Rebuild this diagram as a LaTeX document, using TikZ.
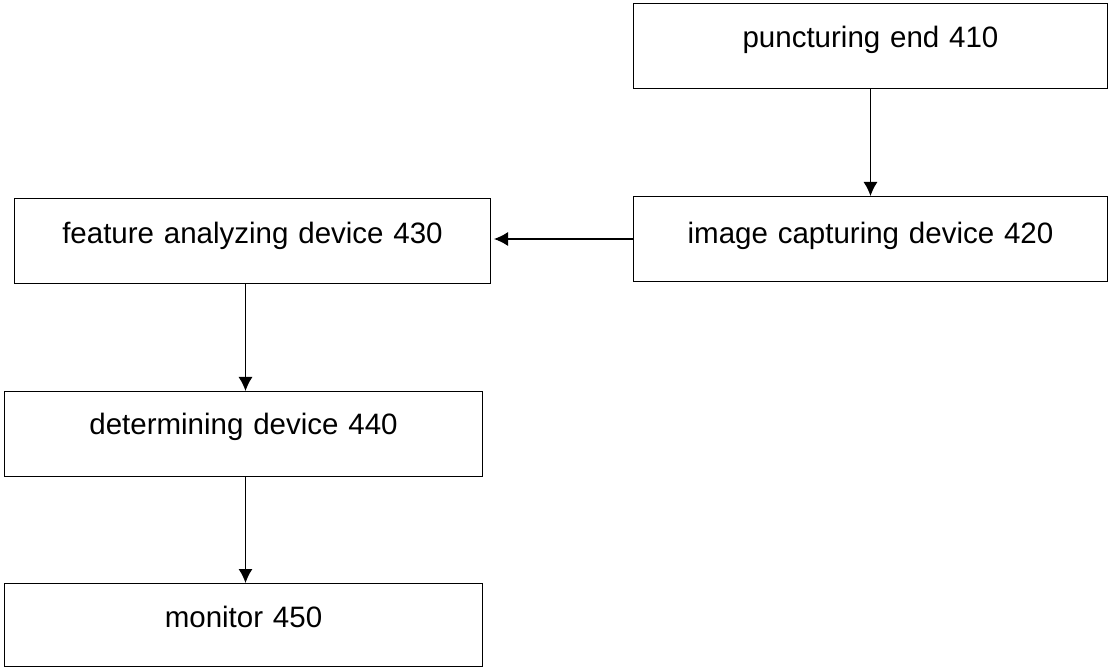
\documentclass[tikz,border=0pt]{standalone}
\usepackage{fontspec}
\setmainfont{Liberation Sans}
\usetikzlibrary{arrows.meta}
\begin{document}
\begin{tikzpicture}[x=1pt,y=-1pt,
  box/.style={draw=black, line width=1pt, inner sep=0pt, anchor=north west, align=center,
    font=\fontsize{29.5pt}{34pt}\selectfont},
  conn/.style={draw=black, line width=1.2pt, -{Latex[length=14pt,width=14pt]}}]
\useasboundingbox (0,0) rectangle (1109,668);
\node[box, text width=474pt, text height=44pt, text depth=41pt] (b410) at (633,3) {puncturing end 410};
\node[box, text width=474pt, text height=47pt, text depth=38pt] (b420) at (633,196) {image capturing device 420};
\node[box, text width=476pt, text height=45pt, text depth=40pt] (b430) at (14,198) {feature analyzing device 430};
\node[box, text width=478pt, text height=43pt, text depth=42pt] (b440) at (4,391) {determining device 440};
\node[box, text width=478pt, text height=44pt, text depth=39pt] (b450) at (4,583) {monitor 450};
\draw[conn] (b410.south) -- (b420.north);
\draw[conn] (b420.west) -- ([xshift=3pt]b420.west -| b430.east);
\draw[conn] ([xshift=-7pt]b430.south) -- ([xshift=2pt]b440.north);
\draw[conn] ([xshift=2pt]b440.south) -- ([xshift=2pt]b450.north);
\end{tikzpicture}
\end{document}
